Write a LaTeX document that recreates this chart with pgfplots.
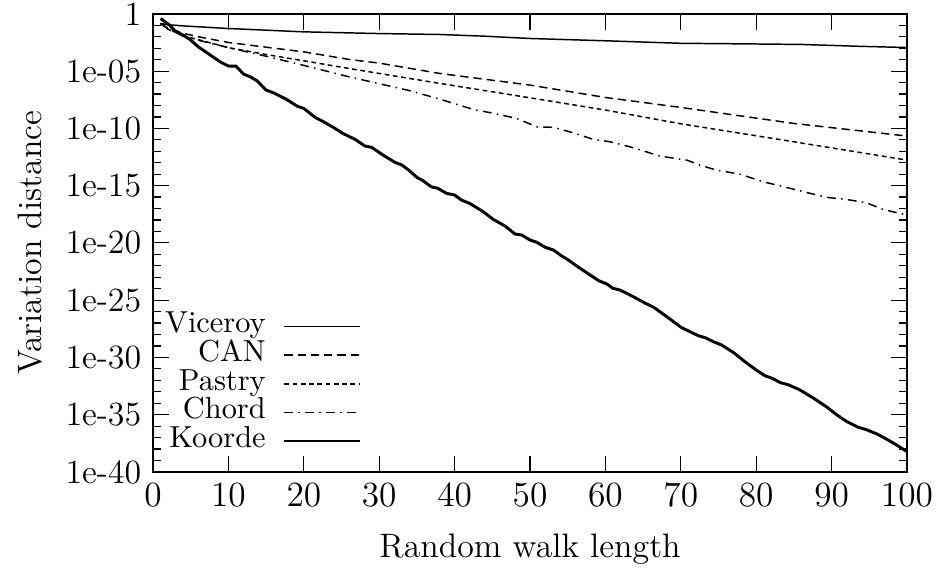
\documentclass[border=0pt]{standalone}
\usepackage{pgfplots}
\pgfplotsset{compat=1.18}
\usepackage{pgfplotstable}

% log10 of the variation distance after a random walk of the given length
\pgfplotstableread{
x e
1 -0.84
2 -0.95
4 -1.05
10 -1.28
20 -1.57
30 -1.72
38 -1.80
44 -1.95
50 -2.15
60 -2.35
70 -2.57
80 -2.63
86 -2.67
93 -2.82
100 -2.94
}\viceroy

\pgfplotstableread{
x e
1 -0.84
2 -1.25
4 -1.70
6 -2.00
10 -2.50
20 -3.32
26 -3.98
30 -4.30
38 -5.20
50 -6.22
60 -7.30
70 -8.17
85 -9.57
100 -10.67
}\can

\pgfplotstableread{
x e
1 -0.84
2 -1.35
4 -1.90
6 -2.25
10 -2.95
15 -3.55
20 -4.10
26 -4.77
38 -6.07
50 -7.33
60 -8.40
70 -9.60
85 -11.17
100 -12.77
}\pastry

\pgfplotstableread{
x e
1 -0.84
2 -1.35
4 -1.95
6 -2.30
10 -2.95
15 -3.70
20 -4.50
26 -5.50
30 -6.10
34 -6.70
38 -7.44
42.5 -8.35
45.3 -8.70
48.2 -9.13
50.9 -9.86
53.1 -9.91
55.7 -10.38
58.4 -10.96
60.6 -11.17
63.2 -11.60
65.4 -12.04
67.2 -12.42
70.8 -12.77
72.5 -13.20
74.7 -13.64
77.8 -13.99
80.9 -14.66
84 -15.15
87.5 -15.73
89.3 -16.02
91.9 -16.20
94.6 -16.49
96.8 -17.07
100 -17.57
}\chord

\pgfplotstableread{
x e
1 -0.40
2.2 -0.99
2.9 -1.48
4.0 -1.86
4.9 -2.24
6.0 -2.88
7.6 -3.60
8.9 -4.19
10 -4.56
11 -4.56
12 -5.26
12.9 -5.50
13.8 -5.85
15 -6.66
16 -6.90
17.7 -7.47
19.1 -8.05
20 -8.26
21.5 -9.04
22.6 -9.42
23.9 -9.91
25.2 -10.45
26.8 -10.96
28.1 -11.54
29 -11.66
30.5 -12.33
32.1 -12.97
33 -13.20
33.9 -13.64
35 -14.28
35.8 -14.57
36.9 -15.10
37.8 -15.24
38.9 -15.67
40 -15.82
40.9 -16.26
42 -16.55
43.8 -17.28
45.1 -17.94
46.7 -18.53
48 -19.22
48.9 -19.31
50 -19.75
50.9 -19.95
52 -20.38
53.1 -20.62
54.2 -21.14
55.1 -21.50
56.2 -22.02
57.3 -22.51
59.1 -23.30
60.2 -23.59
61 -23.97
61.9 -24.11
63 -24.46
64.1 -24.84
65.3 -25.27
66.4 -25.62
67.5 -26.14
68.6 -26.67
70.1 -27.40
71.2 -27.75
72.3 -28.10
73.2 -28.27
74.3 -28.62
75.4 -28.91
77 -29.58
78.5 -30.37
80.1 -31.15
81.2 -31.61
82.1 -31.82
83.2 -32.20
84.3 -32.40
85.8 -32.84
87.6 -33.56
89.4 -34.35
90.7 -35.02
92 -35.60
93.5 -36.09
94.7 -36.33
96 -36.68
97.3 -37.14
98.6 -37.64
100 -38.22
}\koorde

\begin{document}
\fontsize{11.5}{14}\selectfont
\begin{tikzpicture}
\useasboundingbox (-51.9pt,-33.2pt) rectangle (266.8pt,160pt);
\begin{axis}[
  scale only axis,
  width=255.6pt, height=155.3pt,
  xmin=0, xmax=100, ymin=-40, ymax=0,
  xtick={0,10,...,100},
  ytick={-40,-35,...,0},
  yticklabels={1e-40,1e-35,1e-30,1e-25,1e-20,1e-15,1e-10,1e-05,1},
  minor ytick={-39,-38,...,-1},
  tick align=inside,
  xtick pos=both, ytick pos=both,
  major tick length=5.5pt,
  minor tick length=2.8pt,
  tick style={black, line width=0.4pt},
  axis line style={line width=0.5pt},
  xlabel={Random walk length},
  ylabel={Variation distance},
  xlabel style={at={(axis description cs:0.5,-0.168)}, anchor=center},
  ylabel style={at={(axis description cs:-0.163,0.5)}, anchor=center},
  legend plot pos=right,
  legend cell align=right,
  legend image code/.code={\draw[#1] (0pt,0pt) -- (25.6pt,0pt);},
  legend style={draw=none, fill=none, inner sep=0pt,
    font=\fontsize{10.3}{12}\selectfont,
    at={(axis description cs:0.277,0.035)}, anchor=south east,
    row sep=0pt, column sep=5.8pt,
    nodes={inner sep=0pt, text height=7pt, text depth=2.7pt}},
]
\addplot[black, line width=0.5pt] table[x=x, y=e] {\viceroy};
\addlegendentry{Viceroy}
\addplot[black, line width=0.5pt, dash pattern=on 2.8pt off 1.7pt] table[x=x, y=e] {\can};
\addlegendentry{CAN}
\addplot[black, line width=0.5pt, dash pattern=on 1.6pt off 1.2pt] table[x=x, y=e] {\pastry};
\addlegendentry{Pastry}
\addplot[black, line width=0.5pt, dash pattern=on 3pt off 1.8pt on 0.5pt off 1.8pt] table[x=x, y=e] {\chord};
\addlegendentry{Chord}
\addplot[black, line width=1pt] table[x=x, y=e] {\koorde};
\addlegendentry{Koorde}
\end{axis}
\end{tikzpicture}
\end{document}
